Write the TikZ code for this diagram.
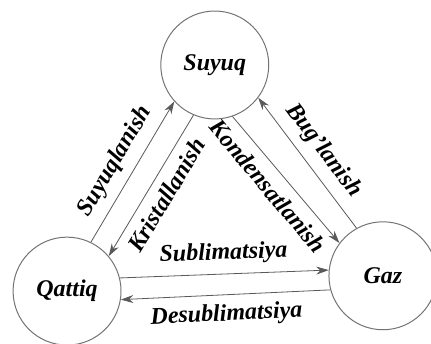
\documentclass[tikz,border=0pt]{standalone}
\usepackage{fontspec}
\setmainfont{Liberation Serif}
\usetikzlibrary{arrows.meta, calc}

\tikzset{
  state/.style={circle, draw=black!55, line width=0.5pt, minimum size=1.9cm, inner sep=0pt, font=\bfseries\itshape\large},
  trans/.style={draw=black!65, line width=0.4pt, -{Stealth[length=2.2mm, width=1.4mm]}},
  lbl/.style={font=\bfseries\itshape\large, sloped, midway, inner sep=4.5pt},
}

\begin{document}
\begin{tikzpicture}
  \useasboundingbox (0,0) rectangle (7.586,6.054);

  % states
  \node[state] (suyuq)  at (3.78,4.91) {Suyuq};
  \node[state] (qattiq) at (1.18,0.93) {Qattiq};
  \node[state] (gaz)    at (6.74,1.20) {Gaz};

  % transitions
  \draw[trans] (qattiq.64) -- node[lbl, above] {Suyuqlanish} (suyuq.222);
  \draw[trans] (suyuq.247) -- node[lbl, below] {Kristallanish} (qattiq.40);
  \draw[trans] (suyuq.289) -- node[lbl, below, pos=0.46] {Kondensatlanish} (gaz.143);
  \draw[trans] (gaz.119) -- node[lbl, above] {Bug'lanish} (suyuq.323);
  \draw[trans] (qattiq.14) -- node[lbl, above] {Sublimatsiya} (gaz.174);
  \draw[trans] (gaz.195) -- node[lbl, below] {Desublimatsiya} (qattiq.351);
\end{tikzpicture}
\end{document}
